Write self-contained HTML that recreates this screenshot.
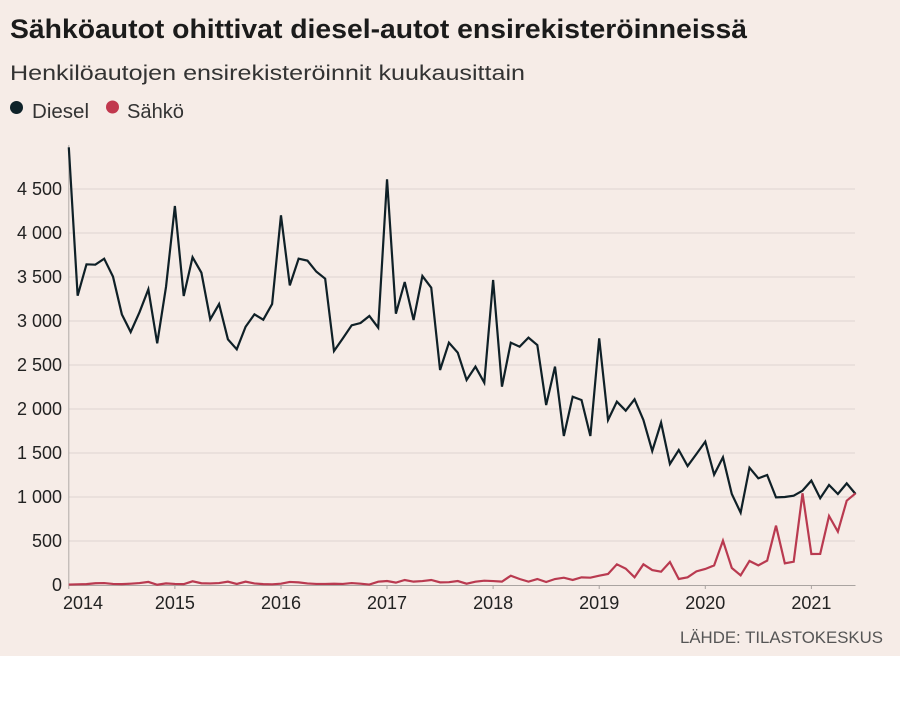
<!DOCTYPE html>
<html><head><meta charset="utf-8"><style>
html,body{margin:0;padding:0;background:#fff;}
svg{display:block;}
text{font-family:"Liberation Sans",sans-serif;}
</style></head><body>
<svg width="900" height="725" viewBox="0 0 900 725" xmlns="http://www.w3.org/2000/svg">
<rect x="0" y="0" width="900" height="656" fill="#f6ece7"/>
<text x="10" y="38" font-size="27" font-weight="bold" fill="#1b1b1b" textLength="737" lengthAdjust="spacingAndGlyphs">Sähköautot ohittivat diesel-autot ensirekisteröinneissä</text>
<text x="10" y="80" font-size="21" fill="#333" textLength="515" lengthAdjust="spacingAndGlyphs">Henkilöautojen ensirekisteröinnit kuukausittain</text>
<circle cx="16.5" cy="107.5" r="6.5" fill="#0e2229"/>
<text x="32" y="118" font-size="20" fill="#333" textLength="57" lengthAdjust="spacingAndGlyphs">Diesel</text>
<circle cx="112.5" cy="107" r="6.5" fill="#c1384e"/>
<text x="127" y="118" font-size="20" fill="#333" textLength="57" lengthAdjust="spacingAndGlyphs">Sähkö</text>

<g stroke="#ddd5d0" stroke-width="1">
<line x1="69" y1="541" x2="855" y2="541"/>
<line x1="69" y1="497" x2="855" y2="497"/>
<line x1="69" y1="453" x2="855" y2="453"/>
<line x1="69" y1="409" x2="855" y2="409"/>
<line x1="69" y1="365" x2="855" y2="365"/>
<line x1="69" y1="321" x2="855" y2="321"/>
<line x1="69" y1="277" x2="855" y2="277"/>
<line x1="69" y1="233" x2="855" y2="233"/>
<line x1="69" y1="189" x2="855" y2="189"/>
</g>
<g font-size="18" fill="#222" text-anchor="end">
<text x="62" y="591">0</text>
<text x="62" y="547">500</text>
<text x="62" y="503">1 000</text>
<text x="62" y="459">1 500</text>
<text x="62" y="415">2 000</text>
<text x="62" y="371">2 500</text>
<text x="62" y="327">3 000</text>
<text x="62" y="283">3 500</text>
<text x="62" y="239">4 000</text>
<text x="62" y="195">4 500</text>
</g>
<line x1="68.8" y1="145" x2="68.8" y2="585" stroke="#b0aaa7" stroke-width="1"/>
<line x1="68.8" y1="585.5" x2="855.5" y2="585.5" stroke="#aaa4a1" stroke-width="1"/>
<g stroke="#aaa4a1" stroke-width="1">
<line x1="68.8" y1="585" x2="68.8" y2="589"/>
<line x1="174.9" y1="585" x2="174.9" y2="589"/>
<line x1="281" y1="585" x2="281" y2="589"/>
<line x1="387" y1="585" x2="387" y2="589"/>
<line x1="493.1" y1="585" x2="493.1" y2="589"/>
<line x1="599.2" y1="585" x2="599.2" y2="589"/>
<line x1="705.3" y1="585" x2="705.3" y2="589"/>
<line x1="811.4" y1="585" x2="811.4" y2="589"/>
</g>
<g font-size="18" fill="#222" text-anchor="middle">
<text x="63" y="609" text-anchor="start">2014</text>
<text x="174.9" y="609">2015</text>
<text x="281" y="609">2016</text>
<text x="387" y="609">2017</text>
<text x="493.1" y="609">2018</text>
<text x="599.2" y="609">2019</text>
<text x="705.3" y="609">2020</text>
<text x="811.4" y="609">2021</text>
</g>

<g transform="translate(68.8,585) scale(8.84,-0.088)">
<polyline fill="none" stroke="#0f2027" stroke-width="2.2" vector-effect="non-scaling-stroke" stroke-linejoin="miter" points="0,4974 1,3288 2,3644 3,3640 4,3708 5,3504 6,3076 7,2875 8,3100 9,3360 10,2746 11,3390 12,4307 13,3284 14,3724 15,3549 16,3019 17,3193 18,2792 19,2678 20,2935 21,3076 22,3015 23,3193 24,4201 25,3405 26,3708 27,3686 28,3561 29,3481 30,2659 31,2803 32,2951 33,2977 34,3057 35,2924 36,4610 37,3083 38,3443 39,3011 40,3511 41,3379 42,2443 43,2754 44,2640 45,2330 46,2481 47,2299 48,3466 49,2254 50,2754 51,2708 52,2811 53,2727 54,2045 55,2481 56,1693 57,2140 58,2102 59,1693 60,2803 61,1875 62,2083 63,1981 64,2110 65,1875 66,1523 67,1845 68,1375 69,1534 70,1352 71,1489 72,1629 73,1254 74,1451 75,1034 76,822 77,1333 78,1212 79,1250 80,996 81,1000 82,1015 83,1072 84,1186 85,986 86,1136 87,1034 88,1155 89,1034"/>
<polyline fill="none" stroke="#b93a50" stroke-width="2.2" vector-effect="non-scaling-stroke" stroke-linejoin="miter" points="0,5 1,8 2,10 3,20 4,22 5,12 6,10 7,15 8,22 9,35 10,3 11,18 12,12 13,10 14,42 15,20 16,18 17,22 18,38 19,12 20,38 21,18 22,10 23,8 24,15 25,35 26,30 27,18 28,12 29,12 30,14 31,12 32,22 33,15 34,5 35,38 36,45 37,27 38,57 39,38 40,45 41,57 42,30 43,32 44,45 45,15 46,38 47,49 48,45 49,38 50,106 51,68 52,38 53,68 54,34 55,68 56,83 57,57 58,87 59,83 60,106 61,125 62,235 63,186 64,87 65,235 66,170 67,151 68,261 69,68 70,87 71,155 72,182 73,223 74,504 75,193 76,110 77,273 78,223 79,277 80,674 81,246 82,265 83,1042 84,352 85,353 86,784 87,606 88,958 89,1042"/>
</g>

<text x="883" y="643" font-size="17" fill="#555" text-anchor="end" textLength="203" lengthAdjust="spacingAndGlyphs">LÄHDE: TILASTOKESKUS</text>
</svg>
</body></html>
